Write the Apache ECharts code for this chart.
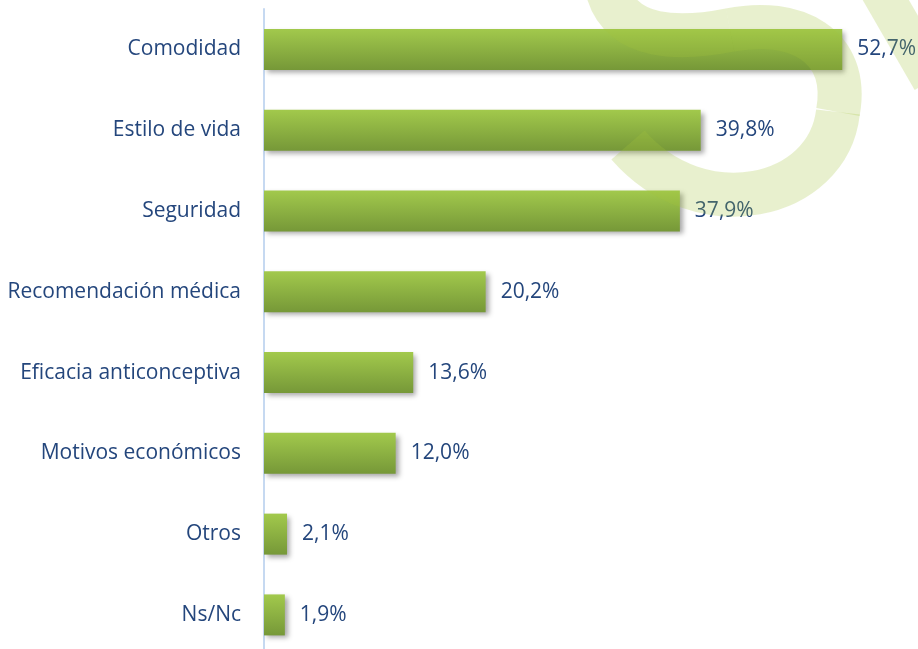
<!DOCTYPE html>
<html><head><meta charset="utf-8">
<script src="https://cdn.jsdelivr.net/npm/echarts@6/dist/echarts.min.js"></script>
<style>html,body{margin:0;padding:0;background:#fff;overflow:hidden}#c{width:918px;height:664px}</style>
</head><body><div id="c"></div>
<script>
const categories = ["Comodidad","Estilo de vida","Seguridad","Recomendación médica","Eficacia anticonceptiva","Motivos económicos","Otros","Ns/Nc"];
const values = [52.7,39.8,37.9,20.2,13.6,12.0,2.1,1.9];

const wm = 'rgba(165,195,60,0.25)';
function curve(x1,y1,cx1,cy1,cx2,cy2,x2,y2,w){
  return {type:'bezierCurve', silent:true, z:100,
    shape:{x1:x1,y1:y1,cpx1:cx1,cpy1:cy1,cpx2:cx2,cpy2:cy2,x2:x2,y2:y2},
    style:{fill:null, stroke:wm, lineWidth:w, lineCap:'butt'}};
}
const chart = echarts.init(document.getElementById('c'));
chart.setOption({
  backgroundColor:'#fff',
  animation:false,
  grid:{left:264, top:9, width:603.5, height:646.3},
  xAxis:{type:'value', min:0, max:55, show:false},
  yAxis:{type:'category', data:categories, inverse:true,
    axisLine:{show:true, lineStyle:{color:'#c6d9f1', width:2}},
    axisTick:{show:false},
    axisLabel:{color:'#24467c', fontSize:21, fontFamily:'Open Sans', margin:23}
  },
  series:[{
    type:'bar', data:values, barWidth:41,
    itemStyle:{
      color:{type:'linear',x:0,y:0,x2:0,y2:1,colorStops:[{offset:0,color:'#a2c94c'},{offset:1,color:'#769838'}]},
      shadowColor:'rgba(0,0,0,0.35)', shadowBlur:5, shadowOffsetX:3, shadowOffsetY:3
    },
    label:{show:true, position:'right', distance:15, color:'#24467c', fontSize:21, fontFamily:'Open Sans',
      formatter:function(p){return p.value.toFixed(1).replace('.',',')+'%';}}
  }],
  graphic:[
    curve(608,-8, 622,40, 680,40, 730,30, 44),
    curve(730,30, 795,17, 850,45, 838,112, 44),
    curve(838,112, 828,200, 700,228, 628,145, 44),
    {type:'line', silent:true, z:100, shape:{x1:880,y1:-10,x2:932,y2:80}, style:{stroke:wm, lineWidth:40}}
  ]
});
</script></body></html>
